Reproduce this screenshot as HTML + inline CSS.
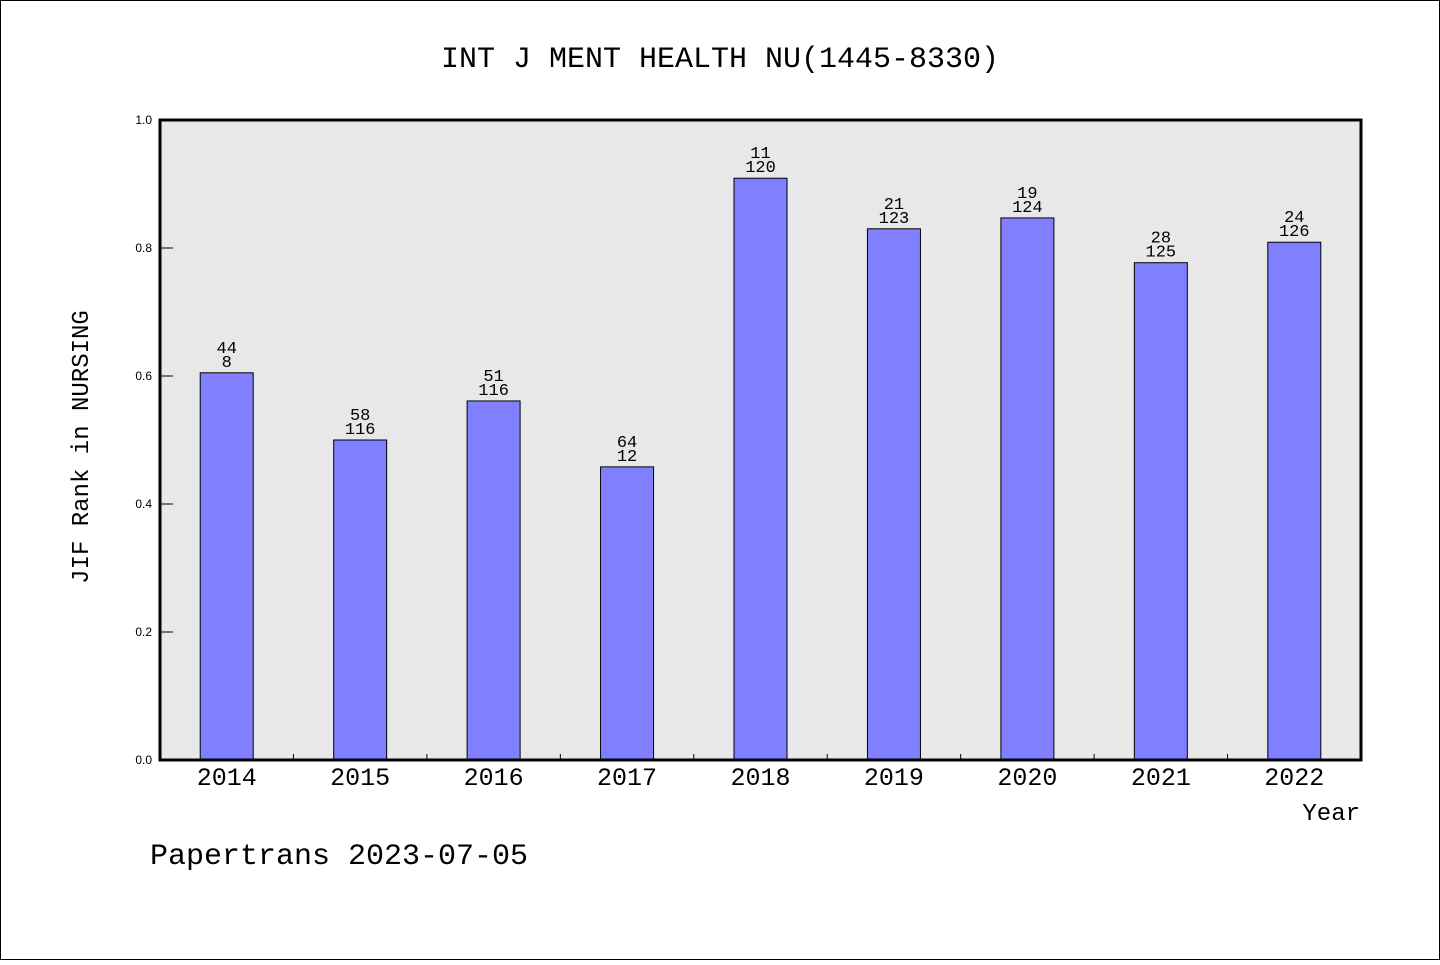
<!DOCTYPE html>
<html><head><meta charset="utf-8"><style>
body{margin:0;background:#fff}
svg text{font-family:"Liberation Mono","WenQuanYi Zen Hei",monospace;fill:#000}
svg text.ytl{font-family:"Liberation Sans",sans-serif;font-size:12px}
</style></head><body>
<svg id="chart" width="1440" height="960">
<rect x="0.5" y="0.5" width="1439" height="959" fill="#fff" stroke="#000"/>
<text x="720" y="67" font-size="30" text-anchor="middle">INT J MENT HEALTH NU(1445-8330)</text>
<rect x="160" y="120" width="1201" height="640" fill="#e8e8e8"/>
<g id="bars"></g>
<g id="axes"></g>
<text transform="translate(88,447) rotate(-90)" font-size="24" text-anchor="middle">JIF Rank in NURSING</text>
<text x="1360" y="820" font-size="24" text-anchor="end">Year</text>
<text x="150" y="864" font-size="30">Papertrans 2023-07-05</text>
</svg>
<script>
const categories=["2014","2015","2016","2017","2018","2019","2020","2021","2022"];
const values=[0.605,0.5,0.561,0.458,0.909,0.830,0.847,0.777,0.809];
const rankLabels=["44","58","51","64","11","21","19","28","24"];
const totalLabels=["8","116","116","12","120","123","124","125","126"];
const yTicks=[0,0.2,0.4,0.6,0.8,1.0];
const NS="http://www.w3.org/2000/svg";
const X0=160,X1=1361,Y0=760,Y1=120;
const step=(X1-X0)/categories.length;
const xc=i=>X0+step*(i+0.5);
const y=v=>Y0-(Y0-Y1)*v;
function mk(tag,attrs,parent){const e=document.createElementNS(NS,tag);for(const k in attrs)e.setAttribute(k,attrs[k]);parent.appendChild(e);return e;}
const gb=document.getElementById('bars'),ga=document.getElementById('axes');
values.forEach((v,i)=>{
  const r=mk('rect',{x:xc(i)-26.5,y:y(v),width:53,height:Y0-y(v),fill:'#8080ff',stroke:'#000','stroke-width':1},gb);
  
  
  const t1=mk('text',{x:xc(i),y:y(v)-20,'font-size':17,'text-anchor':'middle'},gb);
  t1.textContent=rankLabels[i];
  
  
  const t2=mk('text',{x:xc(i),y:y(v)-6,'font-size':17,'text-anchor':'middle'},gb);
  t2.textContent=totalLabels[i];
  
  
  const xl=mk('text',{x:xc(i),y:785,'font-size':25,'text-anchor':'middle'},ga);
  xl.textContent=categories[i];
  
  
  if(i>0){const tk=mk('line',{x1:X0+step*i,x2:X0+step*i,y1:Y0,y2:Y0-6,stroke:'#000'},ga);
  
  }
});
yTicks.forEach(t=>{
  const l=mk('line',{x1:160,x2:173,y1:y(t),y2:y(t),stroke:'#000'},ga);
  
  
  const tx=mk('text',{x:152,y:y(t)+4,'text-anchor':'end','class':'ytl'},ga);
  tx.textContent=t.toFixed(1);
  
  
});
const border=mk('rect',{x:X0,y:Y1,width:X1-X0,height:Y0-Y1,fill:'none',stroke:'#000','stroke-width':3},ga);


</script>
</body></html>
